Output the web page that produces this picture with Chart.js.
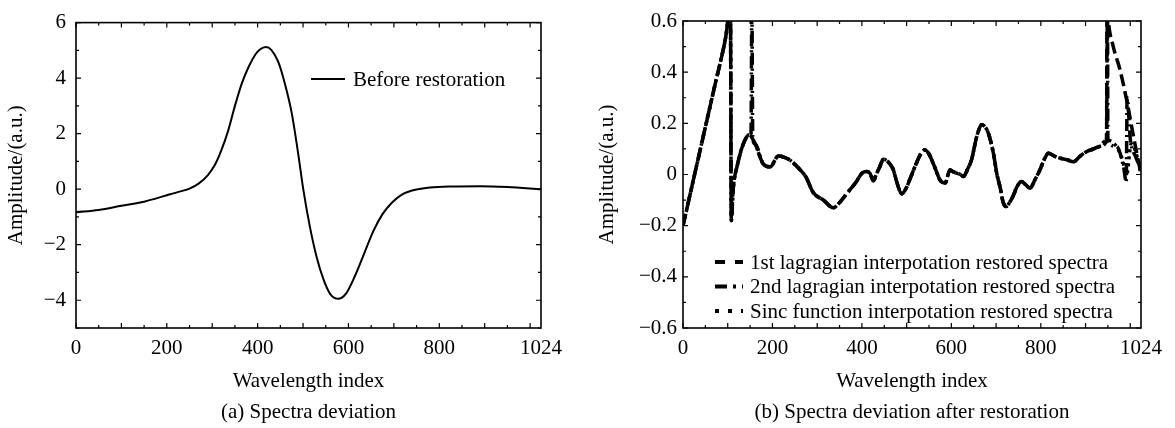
<!DOCTYPE html>
<html><head><meta charset="utf-8">
<script src="https://cdn.jsdelivr.net/npm/chart.js@4.4.1/dist/chart.umd.min.js"></script>
<style>
html,body{margin:0;padding:0;background:#fff;}
#wrap{position:relative;width:1175px;height:428px;overflow:hidden;background:#fff;}
canvas{position:absolute;top:0;}
#cA{left:0}
#cB{left:587px}
</style></head><body>
<div id="wrap"><canvas id="cA" width="587" height="428"></canvas><canvas id="cB" width="588" height="428"></canvas></div>
<script>
// ---------- tick labels ----------
const xTickValues = [0, 200, 400, 600, 800, 1024];
const xTickLabels = ['0', '200', '400', '600', '800', '1024'];
const leftYTickValues = [-4, -2, 0, 2, 4, 6];
const leftYTickLabels = ['\u22124', '\u22122', '0', '2', '4', '6'];
const rightYTickValues = [-0.6, -0.4, -0.2, 0, 0.2, 0.4, 0.6];
const rightYTickLabels = ['\u22120.6', '\u22120.4', '\u22120.2', '0', '0.2', '0.4', '0.6'];

// ---------- (a) Before restoration ----------
const beforeIdx = [0, 50, 100, 150, 200, 230, 250, 270, 290, 305, 320, 335, 350, 365, 380, 395, 405, 418, 430, 445, 460, 475, 490, 500, 515, 530, 545, 560, 577, 595, 615, 635, 655, 675, 695, 715, 740, 780, 830, 890, 950, 1024];
const beforeAmp = [-0.83, -0.75, -0.6, -0.45, -0.22, -0.08, 0.02, 0.2, 0.5, 0.85, 1.4, 2.1, 3.0, 3.8, 4.4, 4.85, 5.03, 5.12, 5.02, 4.6, 3.8, 2.75, 1.2, 0.05, -1.35, -2.45, -3.25, -3.78, -3.95, -3.75, -3.1, -2.3, -1.5, -0.9, -0.5, -0.22, -0.05, 0.06, 0.1, 0.11, 0.08, 0.0];

// ---------- (b) after restoration ----------
// shared start (straight ramp and drop)
const headIdx = [0, 35, 70, 95, 106, 108];
const headAmp = [-0.2, 0.07, 0.339, 0.532, 0.65, -0.18];
// common body of the three restored spectra
const mainIdx = [112, 122, 135, 148, 161, 180, 195, 213, 225, 240, 262, 275, 291, 314, 336, 350, 366, 388, 400, 411, 418, 426, 432, 440, 448, 455, 463, 470, 478, 489, 500, 507, 522, 533, 541, 550, 559, 567, 574, 586, 597, 605, 612, 620, 627, 636, 645, 657, 668, 676, 683, 694, 702, 709, 716, 722, 730, 739, 746, 757, 766, 776, 787, 798, 808, 817, 830, 843, 858, 873, 888, 903, 918, 932, 947];
const mainAmp = [-0.06, 0.04, 0.12, 0.155, 0.12, 0.04, 0.03, 0.072, 0.068, 0.055, 0.018, -0.01, -0.07, -0.1, -0.13, -0.11, -0.075, -0.027, 0.005, 0.012, 0.005, -0.025, 0.0, 0.03, 0.06, 0.055, 0.04, 0.02, -0.03, -0.075, -0.05, -0.02, 0.045, 0.085, 0.096, 0.08, 0.045, 0.01, -0.02, -0.034, 0.018, 0.01, 0.005, 0.0, -0.008, 0.02, 0.057, 0.15, 0.194, 0.185, 0.16, 0.083, 0.0, -0.05, -0.11, -0.125, -0.11, -0.08, -0.05, -0.027, -0.04, -0.053, -0.02, 0.018, 0.06, 0.083, 0.072, 0.064, 0.058, 0.05, 0.072, 0.09, 0.1, 0.11, 0.135];
// 1st lagragian: end spike and descent
const lag1TailIdx = [948, 951, 962, 977, 992, 1006, 1024];
const lag1TailAmp = [0.68, 0.6, 0.5, 0.41, 0.29, 0.16, 0.0];
// 2nd lagragian: extra spike near 154 and end behaviour
const lag2SpikeIdx = [152, 154, 156];
const lag2SpikeAmp = [0.15, 0.66, 0.14];
const lag2TailIdx = [949, 950, 969, 985, 991, 993, 1000, 1012, 1024];
const lag2TailAmp = [0.66, 0.13, 0.11, 0.03, -0.03, 0.3, 0.14, 0.07, 0.02];
// sinc: end behaviour
const sincTailIdx = [969, 982, 992, 1002, 1012, 1024];
const sincTailAmp = [0.11, 0.06, 0.0, 0.12, 0.09, 0.0];

const lab1 = '1st lagragian interpotation restored spectra';
const lab2 = '2nd lagragian interpotation restored spectra';
const lab3 = 'Sinc function interpotation restored spectra';

function pts(xs, ys) { return xs.map((x, i) => ({x: x, y: ys[i]})); }
function merged(...parts) {
  return [].concat(...parts).sort((a, b) => a.x - b.x);
}

const FONT = 'Liberation Serif';
const FS = 21;

// frame + inward ticks drawn from the scales
const frameTicks = {
  id: 'frameTicks',
  afterDatasetsDraw(chart, args, o) {
    const {ctx, chartArea: a, scales: {x, y}} = chart;
    ctx.save();
    ctx.strokeStyle = '#000';
    ctx.lineWidth = 1.6;
    ctx.strokeRect(a.left, a.top, a.right - a.left, a.bottom - a.top);
    ctx.lineWidth = 1.2;
    ctx.beginPath();
    const nx0 = Math.ceil(x.min / o.xMinor - 1e-6), nx1 = Math.floor(x.max / o.xMinor + 1e-6);
    for (let n = nx0; n <= nx1; n++) {
      const px = x.getPixelForValue(n * o.xMinor);
      const L = (n % o.xRatio === 0) ? 5 : 3;
      ctx.moveTo(px, a.bottom); ctx.lineTo(px, a.bottom - L);
      ctx.moveTo(px, a.top); ctx.lineTo(px, a.top + L);
    }
    const ny0 = Math.ceil(y.min / o.yMinor - 1e-6), ny1 = Math.floor(y.max / o.yMinor + 1e-6);
    for (let n = ny0; n <= ny1; n++) {
      const py = y.getPixelForValue(n * o.yMinor);
      const L = (((n % o.yRatio) + o.yRatio) % o.yRatio === 0) ? 5 : 3;
      ctx.moveTo(a.left, py); ctx.lineTo(a.left + L, py);
      ctx.moveTo(a.right, py); ctx.lineTo(a.right - L, py);
    }
    ctx.stroke();
    ctx.restore();
  }
};

// legend inside the plot, using each dataset's style
const boxLegend = {
  id: 'boxLegend',
  afterDatasetsDraw(chart, args, o) {
    const ctx = chart.ctx;
    ctx.save();
    chart.data.datasets.forEach((ds, i) => {
      const y = o.y0 + i * o.dy;
      ctx.strokeStyle = ds.borderColor;
      ctx.lineWidth = o.lw || ds.borderWidth;
      ctx.setLineDash((o.dashes && o.dashes[i]) || ds.borderDash || []);
      ctx.lineCap = 'butt';
      ctx.beginPath(); ctx.moveTo(o.x0, y); ctx.lineTo(o.x0 + o.len, y); ctx.stroke();
      ctx.setLineDash([]);
      ctx.fillStyle = '#000';
      ctx.font = FS + 'px "' + FONT + '"';
      ctx.textBaseline = 'middle'; ctx.textAlign = 'left';
      ctx.fillText(ds.label, o.x0 + o.len + o.gap, y + 1);
    });
    ctx.restore();
  }
};

// caption under the axis title
const caption = {
  id: 'caption',
  afterDraw(chart, args, o) {
    const {ctx, chartArea: a} = chart;
    ctx.save();
    ctx.fillStyle = '#000';
    ctx.font = FS + 'px "' + FONT + '"';
    ctx.textAlign = 'center'; ctx.textBaseline = 'middle';
    ctx.fillText(o.text, (a.left + a.right) / 2, o.y);
    ctx.restore();
  }
};

function makeScales(yMin, yMax, yVals, yLabs, yWidth, yPad, yTitlePad) {
  const tickFont = {family: FONT, size: FS};
  return {
    x: {
      type: 'linear', min: 0, max: 1024,
      afterBuildTicks: s => { s.ticks = xTickValues.map(v => ({value: v})); },
      afterFit: s => { s.height = 100; },
      grid: {display: false, drawTicks: false},
      border: {display: false},
      ticks: {padding: 8, color: '#000', font: tickFont, maxRotation: 0, autoSkip: false,
        callback: v => xTickLabels[xTickValues.indexOf(v)]},
      title: {display: true, text: 'Wavelength index', color: '#000', font: tickFont, padding: {top: 0, bottom: 34}}
    },
    y: {
      type: 'linear', min: yMin, max: yMax,
      afterBuildTicks: s => { s.ticks = yVals.map(v => ({value: v})); },
      afterFit: s => { s.width = yWidth; },
      grid: {display: false, drawTicks: false},
      border: {display: false},
      ticks: {padding: yPad, color: '#000', font: tickFont, autoSkip: false,
        callback: v => { const k = yVals.findIndex(t => Math.abs(t - v) < 1e-9); return k >= 0 ? yLabs[k] : ''; }},
      title: {display: true, text: 'Amplitude/(a.u.)', color: '#000', font: tickFont, padding: {top: yTitlePad, bottom: 0}}
    }
  };
}

new Chart(document.getElementById('cA'), {
  type: 'line',
  data: {datasets: [{
    label: 'Before restoration', data: pts(beforeIdx, beforeAmp),
    borderColor: '#000', borderWidth: 2, pointRadius: 0, fill: false, cubicInterpolationMode: 'monotone'
  }]},
  options: {
    responsive: false, animation: false, devicePixelRatio: 1,
    layout: {padding: {top: 22, right: 46, left: 0, bottom: 0}},
    plugins: {
      legend: {display: false}, tooltip: {enabled: false},
      frameTicks: {xMinor: 50, xRatio: 2, yMinor: 1, yRatio: 2},
      boxLegend: {x0: 311, y0: 79, dy: 25, len: 34, gap: 8},
      caption: {text: '(a) Spectra deviation', y: 412}
    },
    scales: makeScales(-5, 6, leftYTickValues, leftYTickLabels, 76, 10, 4)
  },
  plugins: [frameTicks, boxLegend, caption]
});

const headPts = pts(headIdx, headAmp);
const mainPts = pts(mainIdx, mainAmp);
new Chart(document.getElementById('cB'), {
  type: 'line',
  data: {datasets: [
    {label: lab1, data: merged(headPts, mainPts, pts(lag1TailIdx, lag1TailAmp)),
      borderColor: '#000', borderWidth: 3.5, borderDash: [12, 5], pointRadius: 0, fill: false, cubicInterpolationMode: 'monotone'},
    {label: lab2, data: merged(headPts, mainPts, pts(lag2SpikeIdx, lag2SpikeAmp), pts(lag2TailIdx, lag2TailAmp)),
      borderColor: '#000', borderWidth: 3.5, borderDash: [12, 4, 2, 4], pointRadius: 0, fill: false, cubicInterpolationMode: 'monotone'},
    {label: lab3, data: merged(headPts, mainPts, pts(sincTailIdx, sincTailAmp)),
      borderColor: '#000', borderWidth: 3.5, borderDash: [3, 4], pointRadius: 0, fill: false, cubicInterpolationMode: 'monotone'}
  ]},
  options: {
    responsive: false, animation: false, devicePixelRatio: 1,
    layout: {padding: {top: 21, right: 34, left: 0, bottom: 0}},
    plugins: {
      legend: {display: false}, tooltip: {enabled: false},
      frameTicks: {xMinor: 50, xRatio: 2, yMinor: 0.1, yRatio: 2},
      boxLegend: {x0: 128, y0: 262, dy: 24.5, len: 28, gap: 7, lw: 4, dashes: [[10, 10], [12, 6, 3, 6], [4, 9]]},
      caption: {text: '(b) Spectra deviation after restoration', y: 412}
    },
    scales: makeScales(-0.6, 0.6, rightYTickValues, rightYTickLabels, 96, 6, 8)
  },
  plugins: [frameTicks, boxLegend, caption]
});
</script>
</body></html>
